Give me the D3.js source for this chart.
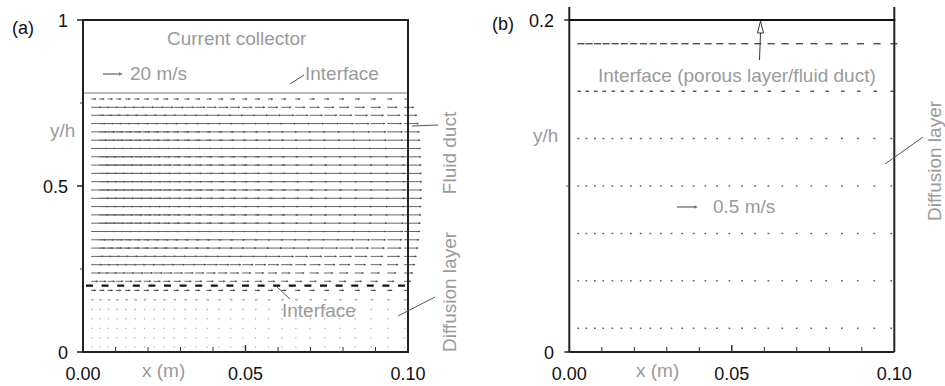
<!DOCTYPE html>
<html>
<head>
<meta charset="utf-8">
<script src="https://cdn.jsdelivr.net/npm/d3@7"></script>
<style>
  body { margin: 0; background: #fff; }
  svg { display: block; font-family: "Liberation Sans", Arial, Helvetica, sans-serif; }
</style>
</head>
<body>
<div id="chart"></div>
<script>
// grid columns of the vector plot (m)
const xCols = [0.0025, 0.0050, 0.0076, 0.0102, 0.0130, 0.0158, 0.0187, 0.0217, 0.0247,
  0.0279, 0.0312, 0.0345, 0.0380, 0.0416, 0.0452, 0.0490, 0.0529, 0.0569, 0.0610,
  0.0653, 0.0697, 0.0742, 0.0788, 0.0836, 0.0885, 0.0936, 0.0988];

// fluid duct rows (y/h) and axial velocity (m/s)
const ductY = [0.762, 0.737, 0.713, 0.688, 0.663, 0.638, 0.613, 0.588, 0.563, 0.538, 0.513,
  0.488, 0.463, 0.438, 0.413, 0.388, 0.363, 0.338, 0.313, 0.288, 0.263, 0.238, 0.213];
const ductU = [5, 10, 13, 14.5, 15.5, 16, 16.5, 17, 17.3, 17.5, 17.7,
  17.7, 17.7, 17.3, 17, 16.5, 16, 15, 14, 12.5, 11, 9, 7];

// diffusion layer rows (y/h)
const diffY = [0.1857, 0.1571, 0.1286, 0.1000, 0.0714, 0.0429, 0.0143];
const diffUA = [5, 2.5, 1.6, 1.3, 1.3, 1.2, 1.2];          // as drawn in (a), m/s
const diffUB = [0.17, 0.085, 0.045, 0.04, 0.04, 0.038, 0.038]; // as drawn in (b), m/s

const interfaceTop = 0.78;   // current collector / fluid duct
const interfacePorous = 0.2; // fluid duct / diffusion layer

const xTickVals = [0, 0.05, 0.1];
const xTickText = ['0.00', '0.05', '0.10'];
const xMinor = [0.01, 0.02, 0.03, 0.04, 0.06, 0.07, 0.08, 0.09];
const yTicksA = [0, 0.5, 1];
const yTickTextA = ['0', '0.5', '1'];
const yMinorA = [0.25, 0.75];
const yTicksB = [0, 0.2];
const yTickTextB = ['0', '0.2'];
const yMinorB = [0.1];

const refA = 20;   // m/s
const refB = 0.5;  // m/s

const W = 945, H = 386;
const gray = '#9a9a9a';

const svg = d3.select('#chart').append('svg')
  .attr('width', W).attr('height', H);

const xA = d3.scaleLinear().domain([0, 0.1]).range([83, 408]);
const yA = d3.scaleLinear().domain([0, 1]).range([352, 20]);
const xB = d3.scaleLinear().domain([0, 0.1]).range([569.3, 894.3]);
const yB = d3.scaleLinear().domain([0, 0.2]).range([352, 20]);

// vector length scales (px per m/s)
const lenA = d3.scaleLinear().domain([0, refA]).range([0, 20]);
const lenB = d3.scaleLinear().domain([0, refB]).range([0, 21]);

function vectorRow(g, x, y, len, yv, u, color, head, sw) {
  const row = g.append('g');
  xCols.forEach(c => {
    const x1 = x(c), x2 = x1 + len(u), yy = y(yv);
    row.append('line')
      .attr('x1', x1).attr('x2', x2).attr('y1', yy).attr('y2', yy)
      .attr('stroke', color).attr('stroke-width', sw || 1);
    if (head && len(u) > 3) {
      row.append('path')
        .attr('d', `M${x2 - 1.8},${yy - 1.1}L${x2},${yy}L${x2 - 1.8},${yy + 1.1}Z`)
        .attr('fill', '#444').attr('stroke', 'none');
    }
  });
}

function arrow(g, x1, x2, yy, color) {
  g.append('line').attr('x1', x1).attr('x2', x2 - 2).attr('y1', yy).attr('y2', yy)
    .attr('stroke', color).attr('stroke-width', 1.4);
  g.append('path').attr('d', `M${x2 - 4},${yy - 1.8}L${x2},${yy}L${x2 - 4},${yy + 1.8}Z`)
    .attr('fill', color);
}

function label(g, txt, x, y, opts = {}) {
  return g.append('text').attr('x', x).attr('y', y)
    .attr('font-size', opts.size || 19)
    .attr('fill', opts.color || gray)
    .attr('text-anchor', opts.anchor || 'start')
    .text(txt);
}

function rotLabel(g, txt, x, y) {
  g.append('text')
    .attr('transform', `translate(${x},${y}) rotate(-90)`)
    .attr('font-size', 19).attr('fill', gray).attr('text-anchor', 'middle')
    .text(txt);
}

function leader(g, x1, y1, x2, y2) {
  g.append('line').attr('x1', x1).attr('y1', y1).attr('x2', x2).attr('y2', y2)
    .attr('stroke', '#555').attr('stroke-width', 1);
}

function xAxisTicks(g, x, y0) {
  xMinor.forEach(t => g.append('line').attr('x1', x(t)).attr('x2', x(t))
    .attr('y1', y0).attr('y2', y0 - 5).attr('stroke', '#333').attr('stroke-width', 1));
  g.append('line').attr('x1', x(0.05)).attr('x2', x(0.05))
    .attr('y1', y0).attr('y2', y0 - 7).attr('stroke', '#333').attr('stroke-width', 1.5);
  xTickVals.forEach((t, i) => label(g, xTickText[i], x(t), 380, { anchor: 'middle', color: '#111', size: 18 }));
}

// ---------- panel (a) ----------
const gA = svg.append('g');

ductY.forEach((yv, i) => vectorRow(gA, xA, yA, lenA, yv, ductU[i], '#666', true));
diffY.forEach((yv, i) => vectorRow(gA, xA, yA, lenA, yv, diffUA[i],
  i === 0 ? '#444' : (i === 1 ? '#777' : '#999'), i === 0));

// porous interface
gA.append('line')
  .attr('x1', xA(0) + 3).attr('x2', xA(0.1) - 2)
  .attr('y1', yA(interfacePorous)).attr('y2', yA(interfacePorous))
  .attr('stroke', '#111').attr('stroke-width', 2.2).attr('stroke-dasharray', '7,8.6');

// current collector interface
gA.append('line')
  .attr('x1', xA(0)).attr('x2', xA(0.1))
  .attr('y1', yA(interfaceTop)).attr('y2', yA(interfaceTop))
  .attr('stroke', '#a0a0a0').attr('stroke-width', 1.6);

// frame
gA.append('rect')
  .attr('x', xA(0)).attr('y', yA(1))
  .attr('width', xA(0.1) - xA(0)).attr('height', yA(0) - yA(1))
  .attr('fill', 'none').attr('stroke', '#222').attr('stroke-width', 2);

yTicksA.forEach((t, i) => {
  gA.append('line').attr('x1', xA(0) - 6).attr('x2', xA(0))
    .attr('y1', yA(t)).attr('y2', yA(t)).attr('stroke', '#222').attr('stroke-width', 1.5);
  label(gA, yTickTextA[i], 68, yA(t) + 6.5, { anchor: 'end', color: '#111', size: 18 });
});
yMinorA.forEach(t => gA.append('line').attr('x1', xA(0) - 3).attr('x2', xA(0))
  .attr('y1', yA(t)).attr('y2', yA(t)).attr('stroke', '#444').attr('stroke-width', 1));
xAxisTicks(gA, xA, yA(0));

label(gA, '(a)', 12, 34, { color: '#111', size: 18 });
label(gA, 'Current collector', 167, 45);
arrow(gA, 103, 103 + lenA(refA), 74, '#777');
label(gA, '20 m/s', 130, 80);
label(gA, 'Interface', 305, 80);
leader(gA, 290, 84, 304, 75);
label(gA, 'y/h', 50, 137);
rotLabel(gA, 'Fluid duct', 456, 153);
leader(gA, 412, 126, 438, 125);
rotLabel(gA, 'Diffusion layer', 456, 292);
leader(gA, 398, 316, 435, 297);
label(gA, 'Interface', 282, 317);
leader(gA, 277, 287, 290, 299);
label(gA, 'x (m)', 142, 377);

// ---------- panel (b) ----------
const gB = svg.append('g');

diffY.forEach((yv, i) => vectorRow(gB, xB, yB, lenB, yv, diffUB[i],
  i < 2 ? '#333' : '#555', false, i < 2 ? 1.2 : 1.4));

// frame
gB.append('line').attr('x1', xB(0)).attr('x2', xB(0))
  .attr('y1', yB(0.2) - 13).attr('y2', yB(0)).attr('stroke', '#222').attr('stroke-width', 2);
gB.append('line').attr('x1', xB(0.1)).attr('x2', xB(0.1))
  .attr('y1', yB(0.2) - 13).attr('y2', yB(0)).attr('stroke', '#222').attr('stroke-width', 2);
gB.append('line').attr('x1', xB(0)).attr('x2', xB(0.1))
  .attr('y1', yB(0)).attr('y2', yB(0)).attr('stroke', '#222').attr('stroke-width', 2);
gB.append('line').attr('x1', xB(0)).attr('x2', xB(0.1) + 1)
  .attr('y1', yB(interfacePorous)).attr('y2', yB(interfacePorous))
  .attr('stroke', '#111').attr('stroke-width', 2);

yTicksB.forEach((t, i) => {
  gB.append('line').attr('x1', xB(0) - 5).attr('x2', xB(0))
    .attr('y1', yB(t)).attr('y2', yB(t)).attr('stroke', '#222').attr('stroke-width', 1.5);
  label(gB, yTickTextB[i], 554, yB(t) + 6.5, { anchor: 'end', color: '#111', size: 18 });
});
yMinorB.forEach(t => gB.append('line').attr('x1', xB(0) - 3).attr('x2', xB(0))
  .attr('y1', yB(t)).attr('y2', yB(t)).attr('stroke', '#444').attr('stroke-width', 1));
xAxisTicks(gB, xB, yB(0));

label(gB, '(b)', 492, 30, { color: '#111', size: 18 });
label(gB, 'Interface (porous layer/fluid duct)', 598, 82);
// arrow pointing at the interface
gB.append('line').attr('x1', 759.5).attr('y1', 60).attr('x2', 760.5).attr('y2', 33)
  .attr('stroke', '#333').attr('stroke-width', 1);
gB.append('path').attr('d', 'M760.5,21L763.5,33L757.5,33Z')
  .attr('fill', '#fff').attr('stroke', '#333').attr('stroke-width', 1);
label(gB, 'y/h', 533, 142);
arrow(gB, 677, 677 + lenB(refB), 207, '#777');
label(gB, '0.5 m/s', 713, 213);
label(gB, 'x (m)', 636, 377);
rotLabel(gB, 'Diffusion layer', 941, 161);
leader(gB, 923, 137, 885, 164);
</script>
</body>
</html>
